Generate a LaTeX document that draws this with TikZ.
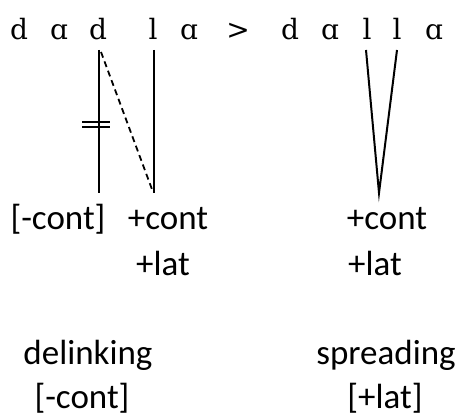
\documentclass[tikz,border=0pt]{standalone}
\usepackage{fontspec}
\setmainfont{Carlito}
\newfontfamily\segfont{DejaVu Serif}
\begin{document}
\begin{tikzpicture}[x=1pt, y=-1pt,
    seg/.style={font=\segfont\fontsize{28}{32}\selectfont, anchor=base, inner sep=0pt},
    feat/.style={font=\fontsize{35}{42}\selectfont, anchor=base, inner sep=0pt},
    assoc/.style={black, line width=2pt},
    delink/.style={black, line width=1.8pt, dash pattern=on 6pt off 4pt}]
    \useasboundingbox (0, 0) rectangle (465, 419);
    % input string
    \node[seg] (d1) at (19, 40) {d};
    \node[seg] (a1) at (59, 40) {ɑ};
    \node[seg] (d2) at (98, 40) {d};
    \node[seg] (l1) at (153, 40) {l};
    \node[seg] (a2) at (189, 40) {ɑ};
    \node[seg] (gt) at (238, 40) {>};
    % output string
    \node[seg] (d3) at (290, 40) {d};
    \node[seg] (a3) at (330, 40) {ɑ};
    \node[seg] (l2) at (367, 40) {l};
    \node[seg] (l3) at (397, 40) {l};
    \node[seg] (a4) at (434, 40) {ɑ};
    % feature labels
    \node[feat] (mcont) at (58, 230) {[-cont]};
    \node[feat] (pcont) at (168, 230) {+cont};
    \node[feat] (plat) at (163, 276) {+lat};
    \node[feat] (pcontb) at (387, 230) {+cont};
    \node[feat] (platb) at (375, 276) {+lat};
    \node[feat] (del) at (88, 364) {delinking};
    \node[feat] (delf) at (82, 408) {[-cont]};
    \node[feat] (spr) at (386, 364) {spreading};
    \node[feat] (sprf) at (385, 408) {[+lat]};
    % association lines
    \coordinate (dtop) at (99, 50);
    \coordinate (dbot) at (99, 193);
    \coordinate (ltop) at (154, 50);
    \coordinate (lbot) at (154, 193);
    \coordinate (vtopa) at (366, 50);
    \coordinate (vtopb) at (397, 50);
    \coordinate (vbot) at (379, 193);
    \draw[assoc] (dtop) -- (dbot);
    \draw[assoc] (ltop) -- (lbot);
    \draw[delink] (101, 52) -- (153, 192);
    \draw[assoc] (vtopa) -- (vbot) -- (vtopb);
    % cut mark
    \draw[black, line width=1.5pt] (82, 122) -- (110, 122);
    \draw[black, line width=1.5pt] (82, 127) -- (110, 127);
\end{tikzpicture}
\end{document}
